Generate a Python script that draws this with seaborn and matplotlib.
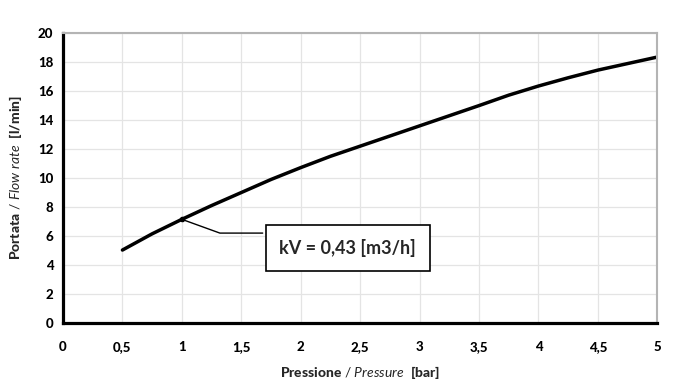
import matplotlib
matplotlib.use("Agg")
import matplotlib.pyplot as plt
import seaborn as sns
import pandas as pd

# Flow rate curve
pressure = [0.5, 0.75, 1.0, 1.25, 1.5, 1.75, 2.0, 2.25, 2.5, 3.0, 3.5, 3.75, 4.0, 4.25, 4.5, 4.75, 5.0]
flow_rate = [5.03, 6.15, 7.15, 8.1, 9.0, 9.9, 10.72, 11.5, 12.2, 13.6, 15.0, 15.72, 16.35, 16.92, 17.45, 17.9, 18.35]

x_ticks = [0, 0.5, 1, 1.5, 2, 2.5, 3, 3.5, 4, 4.5, 5]
x_tick_labels = ["0", "0,5", "1", "1,5", "2", "2,5", "3", "3,5", "4", "4,5", "5"]
y_ticks = [0, 2, 4, 6, 8, 10, 12, 14, 16, 18, 20]

kv_label = "kV = 0,43 [m3/h]"
kv_point = (1.0, 7.15)

df = pd.DataFrame({"pressure": pressure, "flow": flow_rate})

sns.set_style("whitegrid")
plt.rcParams["font.family"] = ["Lato", "DejaVu Sans"]
plt.rcParams["mathtext.fontset"] = "custom"
plt.rcParams["mathtext.rm"] = "Lato"
plt.rcParams["mathtext.bf"] = "Lato:black"
plt.rcParams["mathtext.it"] = "Lato:italic"

fig = plt.figure(figsize=(7, 3.9), dpi=100)
ax = fig.add_axes([0.09, 0.172, 0.849, 0.743])

sns.lineplot(data=df, x="pressure", y="flow", color="black", linewidth=2.5, ax=ax)

# annotation: dot on curve, elbow connector and boxed label
ax.plot([kv_point[0]], [kv_point[1]], "o", color="black", markersize=3)
ax.plot([kv_point[0], 1.32, 1.68], [kv_point[1], 6.2, 6.2], color="black", linewidth=1)
ax.text(2.395, 5.17, kv_label, ha="center", va="center", fontsize=13, fontweight="bold",
        bbox=dict(boxstyle="square,pad=0.75", facecolor="white", edgecolor="black", linewidth=1.2))

ax.set_xlim(0, 5)
ax.set_ylim(0, 20)
ax.set_xticks(x_ticks)
ax.set_xticklabels(x_tick_labels)
ax.set_yticks(y_ticks)

ax.grid(True, color="#e4e4e4", linewidth=0.9)
for side in ["top", "right"]:
    ax.spines[side].set_color("#b4b4b4")
    ax.spines[side].set_linewidth(1.5)
for side in ["left", "bottom"]:
    ax.spines[side].set_color("black")
    ax.spines[side].set_linewidth(2.3)

ax.tick_params(axis="both", direction="out", length=4, width=2, color="black",
               labelsize=9.5, labelcolor="black")
ax.tick_params(axis="x", pad=9)
ax.tick_params(axis="y", pad=3)
for lbl in ax.get_xticklabels() + ax.get_yticklabels():
    lbl.set_fontweight("black")

ax.set_xlabel(r"$\mathbf{Pressione}$ / $\mathit{Pressure}$  $\mathbf{[bar]}$", fontsize=10, labelpad=8)
ax.set_ylabel(r"$\mathbf{Portata}$ / $\mathit{Flow\ rate}$  $\mathbf{[l/min]}$", fontsize=10, labelpad=10)

fig.savefig("out.png", dpi=100)
